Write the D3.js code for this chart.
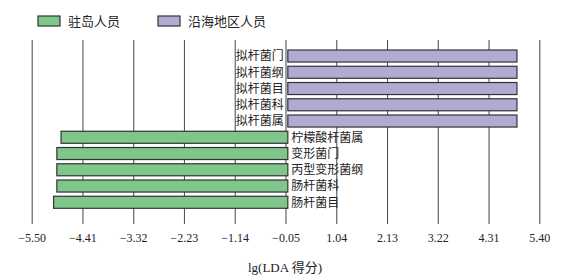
<!doctype html>
<html>
  <head>
    <meta charset="utf-8">
    <script src="https://cdnjs.cloudflare.com/ajax/libs/d3/7.8.5/d3.min.js"></script>
    <style>
      body { margin: 0; background: #fff; }
      text { font-family: "Liberation Serif", "Noto Sans CJK SC", serif; fill: #222; }
    </style>
  </head>
  <body>
    <svg width="569" height="280"></svg>
    <script>
        // taxa, top to bottom
        var categories = ["拟杆菌门", "拟杆菌纲", "拟杆菌目", "拟杆菌科", "拟杆菌属",
                          "柠檬酸杆菌属", "变形菌门", "丙型变形菌纲", "肠杆菌科", "肠杆菌目"];
        var ldaScores = [4.92, 4.92, 4.92, 4.92, 4.92, -4.87, -4.96, -4.96, -4.96, -5.03];
        var groupOf = ["沿海地区人员", "沿海地区人员", "沿海地区人员", "沿海地区人员", "沿海地区人员",
                       "驻岛人员", "驻岛人员", "驻岛人员", "驻岛人员", "驻岛人员"];
        var groups = ["驻岛人员", "沿海地区人员"];
        var groupColors = ["#80c68b", "#b3aad3"];
        var tickValues = [-5.50, -4.41, -3.32, -2.23, -1.14, -0.05, 1.04, 2.13, 3.22, 4.31, 5.40];

        var svg = d3.select("svg");
        var color = d3.scaleOrdinal().domain(groups).range(groupColors);

        var x = d3.scaleLinear().domain([-5.5, 5.4]).range([31.7, 539.3]);
        var y = d3.scaleBand().domain(categories).range([47.9, 210.4])
            .paddingInner(0.26).paddingOuter(0.13);

        // axis with gridlines running up through the plot
        var axis = svg.append("g")
            .attr("transform", "translate(0,224)")
            .call(d3.axisBottom(x).tickValues(tickValues).tickSize(-184).tickPadding(9)
                .tickFormat(d3.format(".2f")));
        axis.select(".domain").remove();
        axis.selectAll(".tick line").attr("stroke", "#555").attr("stroke-width", 1.1);
        axis.selectAll(".tick text").attr("font-size", 12).attr("fill", "#222");

        var rows = categories.map((c, i) => ({name: c, value: ldaScores[i], group: groupOf[i]}));

        svg.selectAll("rect.bar")
            .data(rows)
            .enter()
            .append("rect")
                .attr("class", "bar")
                .attr("x", d => x(Math.min(0, d.value)))
                .attr("y", d => y(d.name))
                .attr("width", d => Math.abs(x(d.value) - x(0)))
                .attr("height", y.bandwidth())
                .attr("fill", d => color(d.group))
                .attr("stroke", "#333")
                .attr("stroke-width", 1.2);

        svg.selectAll("text.lab")
            .data(rows)
            .enter()
            .append("text")
                .attr("class", "lab")
                .attr("x", d => d.value > 0 ? x(0) - 4 : x(0) + 3.5)
                .attr("y", d => y(d.name) + y.bandwidth() / 2)
                .attr("dy", "0.36em")
                .attr("text-anchor", d => d.value > 0 ? "end" : "start")
                .attr("font-size", 12)
                .text(d => d.name);

        // legend
        var legendX = [38, 158];
        var legend = svg.selectAll("g.legend")
            .data(groups)
            .enter()
            .append("g")
                .attr("class", "legend")
                .attr("transform", (d, i) => "translate(" + legendX[i] + ",16)");
        legend.append("rect")
            .attr("width", 22).attr("height", 10)
            .attr("fill", d => color(d))
            .attr("stroke", "#333").attr("stroke-width", 1.2);
        legend.append("text")
            .attr("x", 30).attr("y", 5).attr("dy", "0.36em")
            .attr("font-size", 13)
            .text(d => d);

        svg.append("text")
            .attr("x", 285).attr("y", 267).attr("dy", "0.36em")
            .attr("text-anchor", "middle")
            .attr("font-size", 13)
            .text("lg(LDA 得分)");
    </script>
  </body>
</html>
